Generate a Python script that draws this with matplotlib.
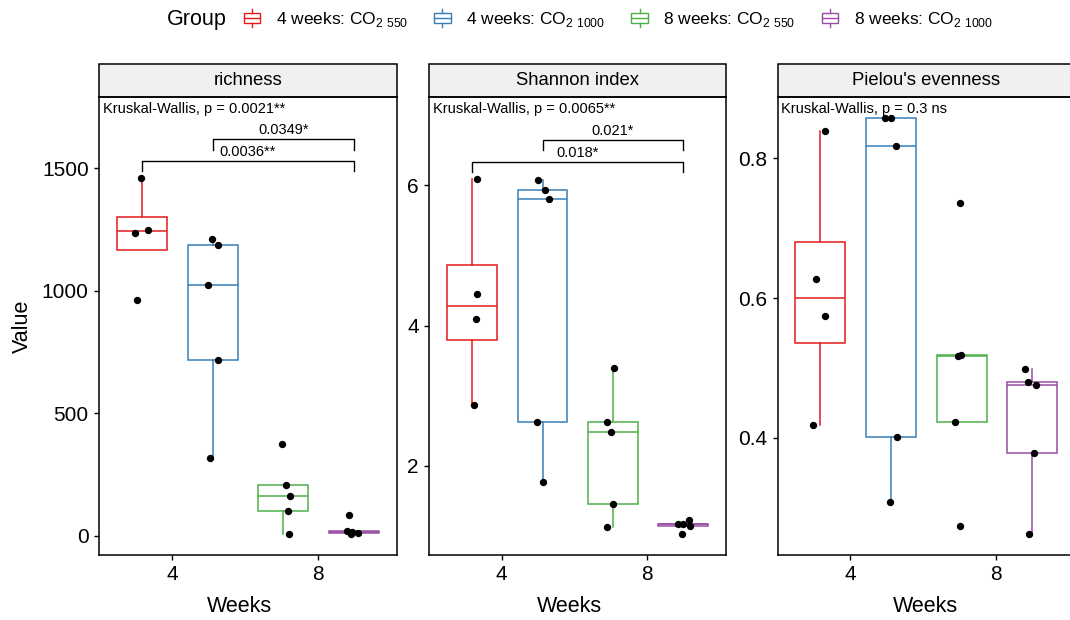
import numpy as np
import matplotlib.pyplot as plt
from matplotlib.patches import Rectangle, Patch
from matplotlib.lines import Line2D
from matplotlib.legend_handler import HandlerBase

plt.rcParams['font.family'] = ['Liberation Sans', 'DejaVu Sans']

# groups and colours
groups = ['4 weeks: CO$_{\\mathregular{2\\ 550}}$', '4 weeks: CO$_{\\mathregular{2\\ 1000}}$',
          '8 weeks: CO$_{\\mathregular{2\\ 550}}$', '8 weeks: CO$_{\\mathregular{2\\ 1000}}$']
colors = ['#E41A1C', '#377EB8', '#4DAF4A', '#984EA3']

panel_titles = ['richness', 'Shannon index', "Pielou's evenness"]
kw_labels = ['Kruskal-Wallis, p = 0.0021**', 'Kruskal-Wallis, p = 0.0065**',
             'Kruskal-Wallis, p = 0.3 ns']

# values per group
richness = [[1460, 1237, 1248, 961],
            [1212, 1188, 1022, 717, 317],
            [373, 207, 161, 102, 7],
            [87, 19, 8, 10, 15]]
shannon = [[6.095, 4.45, 4.10, 2.87],
           [6.07, 5.93, 5.80, 2.63, 1.77],
           [3.39, 2.62, 2.49, 1.46, 1.13],
           [1.23, 1.17, 1.17, 1.14, 1.03]]
pielou = [[0.8387, 0.6267, 0.5747, 0.419],
          [0.857, 0.858, 0.818, 0.401, 0.3086],
          [0.7367, 0.5166, 0.518, 0.4224, 0.274],
          [0.4993, 0.4807, 0.4764, 0.378, 0.2633]]

# horizontal jitter of the dots, as seen in the picture
richness_jit = [[-0.02, -0.18, 0.16, -0.13],
                [-0.02, 0.15, -0.13, 0.15, -0.07],
                [-0.02, 0.07, 0.18, 0.12, 0.16],
                [-0.12, -0.17, -0.08, 0.12, -0.05]]
shannon_jit = [[0.13, 0.13, 0.12, 0.06],
               [-0.13, 0.06, 0.17, -0.14, 0.0],
               [0.02, -0.16, -0.04, 0.0, -0.15],
               [0.16, -0.13, -0.01, 0.18, -0.02]]
pielou_jit = [[0.13, -0.11, 0.12, -0.19],
              [-0.18, -0.01, 0.14, 0.16, -0.03],
              [-0.05, -0.11, -0.02, -0.17, -0.05],
              [-0.19, -0.10, 0.11, 0.06, -0.08]]

# pairwise tests: (group a, group b, label)
richness_pairs = [(0, 3, '0.0036**'), (1, 3, '0.0349*')]
shannon_pairs = [(0, 3, '0.018*'), (1, 3, '0.021*')]
pielou_pairs = []

yticks = [[0, 500, 1000, 1500], [2, 4, 6], [0.4, 0.6, 0.8]]
ylims = [(-76, 1791), (0.739, 7.256), (0.2333, 0.8876)]

positions = [3.18, 5.12, 7.05, 8.98]
box_w = 1.37

W, H = 1070, 620
fig = plt.figure(figsize=(W / 100, H / 100), dpi=100)

top, bottom = 97, 554.5
panels_px = [(99.3, 396.7), (429.3, 726.0), (777.7, 1075.0)]
strip_h = 33 / (bottom - top)


class BoxHandler(HandlerBase):
    def create_artists(self, legend, orig_handle, xdescent, ydescent,
                       width, height, fontsize, trans):
        c = orig_handle.get_edgecolor()
        x0, y0 = -xdescent, -ydescent
        xm = x0 + width / 2
        box = Rectangle((x0 + 0.08 * width, y0 + 0.2 * height), 0.84 * width, 0.6 * height,
                        facecolor='white', edgecolor=c, lw=1, transform=trans)
        med = Line2D([x0 + 0.08 * width, x0 + 0.92 * width], [y0 + 0.5 * height] * 2,
                     color=c, lw=1, transform=trans)
        w1 = Line2D([xm, xm], [y0, y0 + 0.2 * height], color=c, lw=1, transform=trans)
        w2 = Line2D([xm, xm], [y0 + 0.8 * height, y0 + height], color=c, lw=1, transform=trans)
        return [box, med, w1, w2]


datasets = [richness, shannon, pielou]
jitters = [richness_jit, shannon_jit, pielou_jit]
pairs_all = [richness_pairs, shannon_pairs, pielou_pairs]

for k in range(3):
    l, r = panels_px[k]
    ax = fig.add_axes([l / W, 1 - bottom / H, (r - l) / W, (bottom - top) / H])
    for i in range(4):
        vals = datasets[k][i]
        ax.boxplot([vals], positions=[positions[i]], widths=box_w, whis=1.5,
                   showfliers=False, showcaps=False, patch_artist=True, manage_ticks=False,
                   boxprops=dict(facecolor='white', edgecolor=colors[i], linewidth=1.1),
                   medianprops=dict(color=colors[i], linewidth=1.1),
                   whiskerprops=dict(color=colors[i], linewidth=1.1))
        ax.scatter(positions[i] + np.array(jitters[k][i]), vals, s=28,
                   color='black', linewidths=0, zorder=4)

    ax.set_xlim(2.01, 10.16)
    ax.set_ylim(*ylims[k])
    ax.set_xticks([4, 8])
    ax.set_yticks(yticks[k])
    span = ylims[k][1] - ylims[k][0]
    ymax = max(max(v) for v in datasets[k])

    for j, (a, b, lab) in enumerate(pairs_all[k]):
        y = ymax + 0.037 * span + j * 0.048 * span
        tip = 0.0225 * span
        xa, xb = positions[a], positions[b]
        ax.plot([xa, xa, xb, xb], [y - tip, y, y, y - tip], color='black', lw=1)
        ax.text((xa + xb) / 2, y + 0.004 * span, lab, ha='center', va='bottom', fontsize=10.5)

    ax.text(0.012, 0.99, kw_labels[k], transform=ax.transAxes, ha='left', va='top',
            fontsize=10.5)

    for s in ax.spines.values():
        s.set_linewidth(1.1)
        s.set_color('black')
    ax.tick_params(direction='out', length=3.6, width=1, labelsize=15, pad=4, colors='black')

    ax.add_patch(Rectangle((0, 1), 1, strip_h, transform=ax.transAxes, clip_on=False,
                           facecolor='#F0F0F0', edgecolor='black', lw=1.1))
    ax.text(0.5, 1 + strip_h / 2, panel_titles[k], transform=ax.transAxes,
            ha='center', va='center', fontsize=13.3)

fig.text(239 / W, 1 - 606 / H, 'Weeks', ha='center', va='center', fontsize=15.5)
fig.text(569.5 / W, 1 - 606 / H, 'Weeks', ha='center', va='center', fontsize=15.5)
fig.text(925.5 / W, 1 - 606 / H, 'Weeks', ha='center', va='center', fontsize=15.5)
fig.text(22 / W, 1 - 326 / H, 'Value', ha='center', va='center', rotation=90, fontsize=15.5)

handles = [Patch(edgecolor=c, facecolor='white') for c in colors]
fig.legend(handles, groups, loc='center left', bbox_to_anchor=(242 / W, 1 - 19 / H),
           ncol=4, frameon=False, fontsize=12.5, handler_map={Patch: BoxHandler()},
           handlelength=1.15, handleheight=1.2, handletextpad=0.8, columnspacing=1.4,
           borderpad=0, borderaxespad=0)
fig.text(167 / W, 1 - 19 / H, 'Group', ha='left', va='center', fontsize=15.5)

fig.savefig('out.png', dpi=100)
